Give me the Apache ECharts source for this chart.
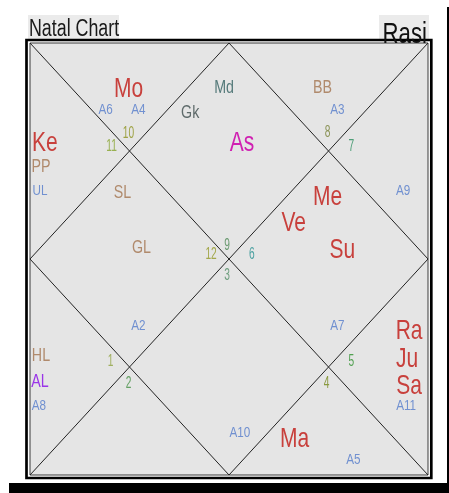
<!DOCTYPE html>
<html>
<head>
<meta charset="utf-8">
<title>Natal Chart</title>
<script src="https://cdn.jsdelivr.net/npm/echarts/dist/echarts.min.js"></script>
<style>
  html, body { margin: 0; padding: 0; background: #fff; }
  #main { width: 449px; height: 493px; }
</style>
</head>
<body>
<div id="main"></div>
<script>
// house grid in units of a quarter of the box (0..4 both ways)
var houseLines = [
  [[0, 0], [4, 4]], [[4, 0], [0, 4]],
  [[2, 0], [4, 2]], [[4, 2], [2, 4]], [[2, 4], [0, 2]], [[0, 2], [2, 0]]
];

// grahas
var planets = ['Mo', 'Ke', 'As', 'Me', 'Ve', 'Su', 'Ra', 'Ju', 'Sa', 'Ma'];
var planetX = [0.99, 0.15, 2.13, 2.99, 2.65, 3.14, 3.81, 3.79, 3.81, 2.66];
var planetY = [0.43, 0.93, 0.93, 1.43, 1.67, 1.92, 2.67, 2.93, 3.18, 3.67];
var planetCol = ['#c8403c', '#c8403c', '#d021b2', '#c8403c', '#c8403c', '#c8403c', '#c8403c', '#c8403c', '#c8403c', '#c8403c'];

// upagrahas / special lagnas
var specials = ['Md', 'BB', 'Gk', 'PP', 'SL', 'GL', 'HL', 'AL'];
var specialX = [1.95, 2.94, 1.61, 0.11, 0.93, 1.12, 0.11, 0.10];
var specialY = [0.41, 0.41, 0.65, 1.15, 1.39, 1.90, 2.90, 3.14];
var specialCol = ['#557a7a', '#b08a6c', '#5f6b6b', '#b08a6c', '#b08a6c', '#b08a6c', '#b08a6c', '#9a35e8'];

// arudhas
var arudhas = ['A6', 'A4', 'A3', 'UL', 'A9', 'A2', 'A7', 'A11', 'A8', 'A10', 'A5'];
var arudhaX = [0.76, 1.09, 3.09, 0.10, 3.75, 1.09, 3.09, 3.78, 0.09, 2.11, 3.25];
var arudhaY = [0.62, 0.62, 0.62, 1.37, 1.37, 2.62, 2.62, 3.36, 3.36, 3.61, 3.86];

// sign numbers
var signs = ['10', '11', '8', '7', '12', '9', '6', '3', '1', '2', '5', '4'];
var signX = [0.99, 0.82, 2.99, 3.23, 1.82, 1.98, 2.23, 1.98, 0.81, 0.99, 3.23, 2.98];
var signY = [0.84, 0.96, 0.83, 0.96, 1.96, 1.87, 1.96, 2.15, 2.95, 3.15, 2.95, 3.15];
var signCol = ['#9ea244', '#98b050', '#8c9458', '#4e9e78', '#a4a84c', '#6a9a70', '#4aa0a0', '#6e9e7e', '#a0b060', '#64a064', '#50a050', '#8a9a40'];

var FONT = '"Liberation Sans", Arial, sans-serif';

function textSeries(names, xs, ys, cols, size, sx) {
  return {
    type: 'custom',
    coordinateSystem: 'cartesian2d',
    silent: true,
    data: names.map(function (n, i) { return [xs[i], ys[i]]; }),
    renderItem: function (params, api) {
      var p = api.coord([api.value(0), api.value(1)]);
      var c = typeof cols === 'string' ? cols : cols[params.dataIndex];
      return {
        type: 'text',
        x: p[0],
        y: p[1],
        scaleX: sx,
        style: {
          text: names[params.dataIndex],
          fill: c,
          fontSize: size,
          fontFamily: FONT,
          align: 'center',
          verticalAlign: 'middle'
        }
      };
    }
  };
}

var myChart = echarts.init(document.getElementById('main'));
var option = {
  animation: false,
  backgroundColor: '#fff',
  grid: {
    left: 30, top: 43, width: 398, height: 432,
    show: true, backgroundColor: '#e5e5e5', borderColor: '#3a3a3a', borderWidth: 1
  },
  xAxis: { type: 'value', min: 0, max: 4, show: false },
  yAxis: { type: 'value', min: 0, max: 4, inverse: true, show: false },
  graphic: [
    { type: 'rect', shape: { x: 28, y: 15, width: 91, height: 25 }, style: { fill: '#ebebeb' }, z: -1 },
    { type: 'text', x: 29, y: 30, scaleX: 0.775,
      style: { text: 'Natal Chart', fontSize: 23, fontFamily: FONT, fill: '#1a1a1a', verticalAlign: 'middle' } },
    { type: 'rect', shape: { x: 379, y: 15, width: 50, height: 26 }, style: { fill: '#ebebeb' }, z: -1 },
    { type: 'rect', shape: { x: 26.5, y: 40, width: 404.8, height: 438 },
      style: { fill: null, stroke: '#000', lineWidth: 2.7 } },
    { type: 'text', x: 382.5, y: 35, scaleX: 0.74, z: 100,
      style: { text: 'Rasi', fontSize: 30, fontFamily: FONT, fill: '#111', verticalAlign: 'middle' } },
    { type: 'rect', shape: { x: 447, y: 7, width: 2, height: 486 }, style: { fill: '#000' } },
    { type: 'rect', shape: { x: 9, y: 483, width: 440, height: 10 }, style: { fill: '#000' } }
  ],
  series: [
    {
      type: 'lines',
      coordinateSystem: 'cartesian2d',
      silent: true,
      lineStyle: { color: '#222', width: 1, opacity: 1 },
      data: houseLines.map(function (c) { return { coords: c }; })
    },
    textSeries(planets, planetX, planetY, planetCol, 28, 0.75),
    textSeries(specials, specialX, specialY, specialCol, 19, 0.75),
    textSeries(arudhas, arudhaX, arudhaY, '#7090d0', 15, 0.78),
    textSeries(signs, signX, signY, signCol, 17, 0.6)
  ]
};
myChart.setOption(option);
</script>
</body>
</html>
